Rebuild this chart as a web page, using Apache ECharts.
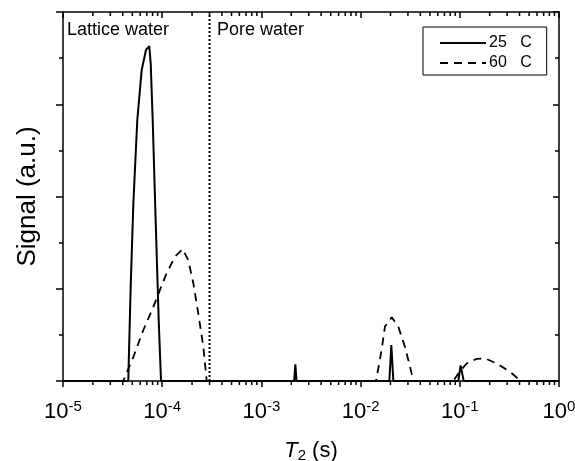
<!DOCTYPE html>
<html>
<head>
<meta charset="utf-8">
<script src="https://cdn.jsdelivr.net/npm/echarts@6/dist/echarts.min.js"></script>
<style>html,body{margin:0;padding:0;background:#fff;}#c{width:575px;height:461px;}</style>
</head>
<body>
<div id="c"></div>
<script>
// ---- data ----
var t25 = [1e-5, 4.55e-5, 4.81e-5, 5.12e-5, 5.61e-5, 6.21e-5, 6.87e-5, 7.41e-5, 7.66e-5, 8.02e-5, 8.59e-5, 9.22e-5, 9.73e-5,
           2.14e-3, 2.20e-3, 2.26e-3, 0.0195, 0.0204, 0.0214, 0.0966, 0.102, 0.1095, 1];
var s25 = [0, 0, 1.02, 1.93, 2.83, 3.37, 3.59, 3.63, 3.44, 2.83, 1.74, 0.66, 0,
           0, 0.18, 0, 0, 0.39, 0, 0, 0.17, 0, 0];
var t60 = [1e-5, 4.05e-5, 4.38e-5, 5.12e-5, 6.44e-5, 8.12e-5, 9.51e-5, 1.11e-4, 1.35e-4, 1.61e-4, 1.83e-4, 2.06e-4, 2.31e-4, 2.60e-4, 2.81e-4,
           0.0143, 0.0163, 0.0176, 0.0206, 0.0240, 0.0280, 0.0315, 0.034,
           0.0859, 0.0966, 0.117, 0.148, 0.180, 0.235, 0.321, 0.411, 1];
var s60 = [0, 0, 0.09, 0.26, 0.55, 0.80, 0.99, 1.17, 1.35, 1.43, 1.31, 1.06, 0.73, 0.37, 0,
           0, 0.34, 0.59, 0.69, 0.59, 0.37, 0.155, 0,
           0, 0.08, 0.19, 0.24, 0.245, 0.19, 0.10, 0, 0];
var seriesNames = ['25   C', '60   C'];
var dividerT = [3e-4, 3e-4];
var dividerS = [0, 4];
var regionLabels = ['Lattice water', 'Pore water'];

var FONT = '"Liberation Sans", Arial, Helvetica, sans-serif';

function pairs(xs, ys) { return xs.map(function (x, i) { return [x, ys[i]]; }); }

// minor tick positions of the log axis (2..9 x 10^n)
var minorT = [];
for (var e = -5; e < 0; e++) for (var k = 2; k <= 9; k++) minorT.push([k * Math.pow(10, e), 0]);

var chart = echarts.init(document.getElementById('c'), null, {renderer: 'canvas'});

var axLine = {show: true, onZero: false, lineStyle: {color: '#000', width: 1.5}};
var option = {
  animation: false,
  backgroundColor: '#fff',
  grid: {left: 63, right: 16, top: 12, bottom: 80, containLabel: false, outerBoundsMode: 'none'},
  legend: {
    data: seriesNames,
    left: 423, top: 27,
    orient: 'vertical',
    itemWidth: 46, itemHeight: 14, itemGap: 4,
    padding: [8, 15, 4, 16],
    borderColor: '#000', borderWidth: 1, borderRadius: 0,
    itemStyle: {color: 'rgba(0,0,0,0)', borderWidth: 0},
    textStyle: {fontFamily: FONT, fontSize: 16, color: '#000', padding: [0, 0, 0, -2]}
  },
  xAxis: [{
    type: 'log', logBase: 10, min: 1e-5, max: 1, position: 'bottom',
    axisLine: axLine,
    axisTick: {show: true, inside: false, length: 6, lineStyle: {color: '#000', width: 1.5}},
    splitLine: {show: false},
    axisLabel: {
      margin: 18,
      formatter: function (v) {
        var ex = Math.round(Math.log10(v));
        return '{b|10}{s|' + ex + '}';
      },
      rich: {
        b: {fontFamily: FONT, fontSize: 22, color: '#000', lineHeight: 26},
        s: {fontFamily: FONT, fontSize: 15, color: '#000', verticalAlign: 'top', lineHeight: 26, padding: [0, 0, 12, 0]}
      }
    },
    name: '{i|T}{sub|2}{n| (s)}',
    nameLocation: 'middle', nameGap: 57,
    nameTextStyle: {
      rich: {
        i: {fontFamily: FONT, fontSize: 22, fontStyle: 'italic', color: '#000'},
        sub: {fontFamily: FONT, fontSize: 15, color: '#000', padding: [10, 0, 0, 0]},
        n: {fontFamily: FONT, fontSize: 22, color: '#000'}
      }
    }
  }, {
    type: 'log', logBase: 10, min: 1e-5, max: 1, position: 'top',
    axisLine: axLine,
    axisTick: {show: true, inside: true, length: 6, lineStyle: {color: '#000', width: 1.5}},
    axisLabel: {show: false},
    splitLine: {show: false}
  }],
  yAxis: [{
    type: 'value', min: 0, max: 4, interval: 1, position: 'left',
    axisLine: axLine,
    axisTick: {show: true, inside: false, length: 7, lineStyle: {color: '#000', width: 1.5}},
    minorTick: {show: true, splitNumber: 2, length: 4, lineStyle: {color: '#000', width: 1.5}},
    axisLabel: {show: false},
    splitLine: {show: false},
    name: 'Signal (a.u.)',
    nameLocation: 'middle', nameGap: 22, nameRotate: 90,
    nameTextStyle: {fontFamily: FONT, fontSize: 26, color: '#000'}
  }, {
    type: 'value', min: 0, max: 4, interval: 1, position: 'right',
    axisLine: axLine,
    axisTick: {show: true, inside: true, length: 6, lineStyle: {color: '#000', width: 1.5}},
    minorTick: {show: true, splitNumber: 2, length: 4, lineStyle: {color: '#000', width: 1.5}},
    axisLabel: {show: false},
    splitLine: {show: false}
  }],
  graphic: [
    {type: 'text', left: 67, top: 21, style: {text: regionLabels[0], font: '18px ' + FONT, fill: '#000'}},
    {type: 'text', left: 217, top: 21, style: {text: regionLabels[1], font: '18px ' + FONT, fill: '#000'}}
  ],
  series: [{
    name: seriesNames[0], type: 'line', xAxisIndex: 0, yAxisIndex: 0,
    data: pairs(t25, s25), symbol: 'none', smooth: false,
    lineStyle: {color: '#000', width: 2, type: 'solid'},
    itemStyle: {color: '#000'},
    z: 3
  }, {
    name: seriesNames[1], type: 'line', xAxisIndex: 0, yAxisIndex: 0,
    data: pairs(t60, s60), symbol: 'none', smooth: false,
    lineStyle: {color: '#000', width: 1.8, type: [8, 6]},
    itemStyle: {color: '#000'},
    z: 3
  }, {
    name: 'divider', type: 'line', xAxisIndex: 0, yAxisIndex: 0,
    data: pairs(dividerT, dividerS), symbol: 'none', silent: true,
    lineStyle: {color: '#000', width: 2, type: [2, 2]},
    z: 2
  }, {
    type: 'custom', xAxisIndex: 0, yAxisIndex: 0, silent: true, clip: false,
    data: minorT,
    renderItem: function (params, api) {
      var x = api.value(0);
      var b = api.coord([x, 0]);
      var t = api.coord([x, 4]);
      var st = {stroke: '#000', lineWidth: 1.5};
      return {type: 'group', children: [
        {type: 'line', shape: {x1: b[0], y1: b[1], x2: b[0], y2: b[1] + 4}, style: st},
        {type: 'line', shape: {x1: t[0], y1: t[1], x2: t[0], y2: t[1] + 4}, style: st}
      ]};
    },
    z: 4
  }]
};
chart.setOption(option);
</script>
</body>
</html>
